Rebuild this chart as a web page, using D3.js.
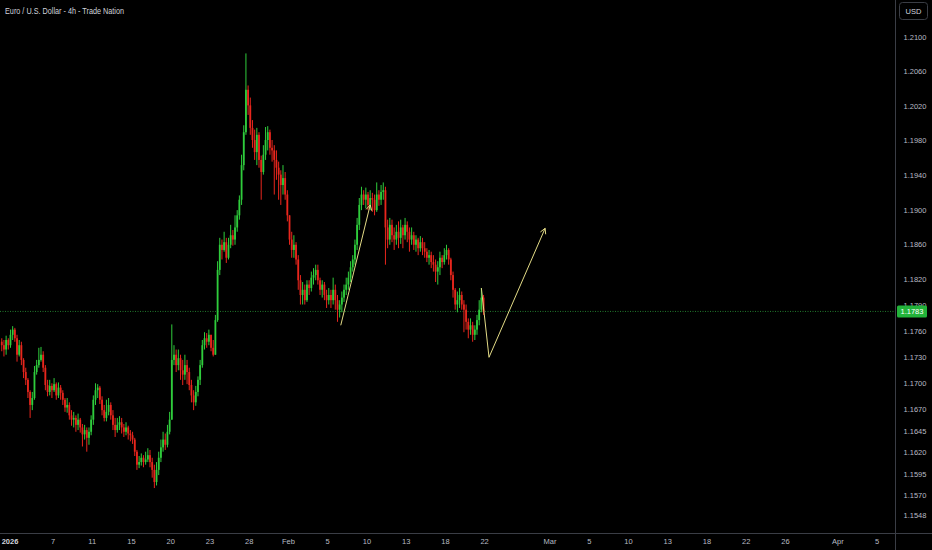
<!DOCTYPE html>
<html><head><meta charset="utf-8">
<script src="https://cdn.jsdelivr.net/npm/d3@7"></script>
<style>html,body{margin:0;padding:0;background:#000;}svg{display:block;}</style>
</head><body>
<svg id="c" width="932" height="550"></svg>
<script>
const title = "Euro / U.S. Dollar - 4h - Trade Nation";
const currency = "USD";
const firstOpen = 1.1748;
const firstCandle = "2026-01-01T00:00Z";
const closes = [
1.1744,1.1739,1.1750,1.1744,1.1756,1.1762,
1.1752,1.1733,1.1744,1.1727,1.1713,1.1704,
1.1690,1.1675,1.1683,1.1713,1.1721,1.1727,
1.1733,1.1718,1.1698,1.1690,1.1697,1.1692,
1.1699,1.1686,1.1695,1.1689,1.1681,1.1672,
1.1675,1.1663,1.1658,1.1660,1.1652,1.1658,
1.1649,1.1641,1.1646,1.1637,1.1644,1.1658,
1.1681,1.1692,1.1695,1.1681,1.1669,1.1660,
1.1667,1.1675,1.1663,1.1652,1.1646,1.1652,
1.1655,1.1649,1.1644,1.1649,1.1642,1.1640,
1.1635,1.1621,1.1606,1.1609,1.1614,1.1609,
1.1612,1.1617,1.1609,1.1600,1.1586,1.1600,
1.1614,1.1626,1.1635,1.1629,1.1644,1.1658,
1.1727,1.1733,1.1721,1.1729,1.1715,1.1710,
1.1721,1.1713,1.1698,1.1686,1.1678,1.1690,
1.1704,1.1721,1.1744,1.1752,1.1748,1.1756,
1.1741,1.1733,1.1773,1.1831,1.1860,1.1854,
1.1863,1.1845,1.1860,1.1871,1.1866,1.1880,
1.1894,1.1912,1.1952,1.1990,1.2039,1.2021,
1.1995,1.1981,1.1967,1.1987,1.1958,1.1944,
1.1964,1.1981,1.1990,1.1972,1.1969,1.1958,
1.1949,1.1941,1.1929,1.1937,1.1918,1.1894,
1.1866,1.1854,1.1860,1.1843,1.1819,1.1802,
1.1808,1.1796,1.1814,1.1810,1.1822,1.1825,
1.1831,1.1819,1.1808,1.1814,1.1802,1.1796,
1.1802,1.1796,1.1808,1.1796,1.1785,1.1791,
1.1799,1.1808,1.1814,1.1822,1.1834,1.1843,
1.1860,1.1883,1.1906,1.1918,1.1912,1.1918,
1.1906,1.1914,1.1912,1.1900,1.1918,1.1912,
1.1921,1.1923,1.1880,1.1866,1.1883,1.1871,
1.1866,1.1875,1.1868,1.1880,1.1871,1.1883,
1.1875,1.1866,1.1871,1.1860,1.1866,1.1856,
1.1863,1.1856,1.1852,1.1845,1.1848,1.1840,
1.1837,1.1829,1.1834,1.1845,1.1840,1.1848,
1.1854,1.1843,1.1825,1.1808,1.1791,1.1796,
1.1802,1.1791,1.1785,1.1771,1.1762,1.1767,
1.1756,1.1762,1.1773,1.1785,1.1799,1.1783];
const highs = [
1.1752,1.1750,1.1755,1.1752,1.1762,1.1766,
1.1764,1.1756,1.1750,1.1748,1.1729,1.1718,
1.1706,1.1692,1.1690,1.1720,1.1727,1.1741,
1.1742,1.1737,1.1721,1.1704,1.1704,1.1700,
1.1706,1.1701,1.1701,1.1698,1.1692,1.1683,
1.1683,1.1678,1.1669,1.1667,1.1663,1.1665,
1.1660,1.1653,1.1652,1.1649,1.1649,1.1663,
1.1686,1.1700,1.1699,1.1697,1.1685,1.1675,
1.1681,1.1683,1.1678,1.1669,1.1660,1.1660,
1.1662,1.1660,1.1653,1.1655,1.1651,1.1646,
1.1644,1.1637,1.1623,1.1616,1.1619,1.1617,
1.1621,1.1625,1.1623,1.1614,1.1606,1.1609,
1.1621,1.1635,1.1644,1.1642,1.1652,1.1667,
1.1768,1.1744,1.1739,1.1739,1.1733,1.1727,
1.1733,1.1727,1.1718,1.1704,1.1692,1.1697,
1.1708,1.1727,1.1750,1.1759,1.1758,1.1762,
1.1755,1.1750,1.1779,1.1841,1.1868,1.1866,
1.1875,1.1868,1.1868,1.1883,1.1877,1.1894,
1.1900,1.1917,1.1964,1.1998,1.2081,1.2044,
1.2030,1.2004,1.1993,1.1995,1.1990,1.1963,
1.1975,1.1996,1.1997,1.1993,1.1981,1.1975,
1.1969,1.1956,1.1946,1.1952,1.1944,1.1923,
1.1894,1.1875,1.1871,1.1863,1.1848,1.1825,
1.1817,1.1814,1.1819,1.1819,1.1829,1.1833,
1.1837,1.1837,1.1822,1.1819,1.1817,1.1808,
1.1810,1.1808,1.1822,1.1814,1.1802,1.1796,
1.1806,1.1814,1.1822,1.1829,1.1841,1.1848,
1.1866,1.1891,1.1914,1.1927,1.1923,1.1926,
1.1921,1.1923,1.1920,1.1918,1.1932,1.1923,
1.1929,1.1932,1.1927,1.1889,1.1891,1.1889,
1.1880,1.1883,1.1887,1.1889,1.1883,1.1891,
1.1887,1.1880,1.1880,1.1875,1.1871,1.1868,
1.1870,1.1868,1.1863,1.1856,1.1854,1.1852,
1.1848,1.1843,1.1841,1.1852,1.1848,1.1856,
1.1860,1.1856,1.1845,1.1829,1.1810,1.1806,
1.1810,1.1806,1.1796,1.1791,1.1775,1.1775,
1.1771,1.1767,1.1779,1.1796,1.1810,1.1802];
const lows = [
1.1737,1.1731,1.1733,1.1739,1.1741,1.1750,
1.1748,1.1725,1.1731,1.1721,1.1706,1.1698,
1.1683,1.1660,1.1669,1.1681,1.1710,1.1718,
1.1725,1.1713,1.1692,1.1685,1.1686,1.1683,
1.1690,1.1681,1.1683,1.1681,1.1675,1.1667,
1.1666,1.1658,1.1651,1.1649,1.1644,1.1646,
1.1643,1.1627,1.1635,1.1621,1.1629,1.1640,
1.1652,1.1675,1.1683,1.1676,1.1663,1.1656,
1.1656,1.1663,1.1658,1.1646,1.1638,1.1643,
1.1646,1.1642,1.1638,1.1640,1.1635,1.1633,
1.1630,1.1616,1.1600,1.1602,1.1605,1.1603,
1.1606,1.1609,1.1603,1.1591,1.1579,1.1582,
1.1594,1.1609,1.1621,1.1623,1.1626,1.1641,
1.1660,1.1721,1.1713,1.1715,1.1704,1.1698,
1.1704,1.1699,1.1692,1.1678,1.1669,1.1674,
1.1685,1.1698,1.1718,1.1739,1.1741,1.1744,
1.1737,1.1731,1.1733,1.1771,1.1825,1.1843,
1.1852,1.1839,1.1843,1.1856,1.1859,1.1860,
1.1875,1.1889,1.1906,1.1946,1.1987,1.2010,
1.1987,1.1972,1.1958,1.1952,1.1949,1.1912,
1.1941,1.1958,1.1969,1.1964,1.1956,1.1918,
1.1935,1.1912,1.1906,1.1918,1.1912,1.1887,
1.1860,1.1845,1.1845,1.1837,1.1808,1.1791,
1.1791,1.1791,1.1794,1.1802,1.1806,1.1814,
1.1819,1.1814,1.1802,1.1799,1.1796,1.1787,
1.1791,1.1787,1.1791,1.1785,1.1771,1.1776,
1.1782,1.1794,1.1802,1.1808,1.1817,1.1829,
1.1837,1.1854,1.1877,1.1900,1.1906,1.1902,
1.1900,1.1900,1.1898,1.1894,1.1898,1.1905,
1.1906,1.1912,1.1837,1.1856,1.1860,1.1863,
1.1854,1.1860,1.1856,1.1861,1.1856,1.1866,
1.1863,1.1852,1.1860,1.1854,1.1852,1.1848,
1.1852,1.1848,1.1845,1.1840,1.1837,1.1833,
1.1829,1.1817,1.1814,1.1825,1.1833,1.1837,
1.1843,1.1837,1.1819,1.1799,1.1785,1.1782,
1.1787,1.1785,1.1759,1.1762,1.1752,1.1756,
1.1748,1.1750,1.1756,1.1767,1.1782,1.1779];

const priceTicks = [1.2100,1.2060,1.2020,1.1980,1.1940,1.1900,1.1860,1.1820,1.1790,1.1760,1.1730,1.1700,1.1670,1.1645,1.1620,1.1595,1.1570,1.1548];
const dateTicks = ["2026-01-01","2026-01-07","2026-01-11","2026-01-15","2026-01-20","2026-01-23","2026-01-28","2026-02-01","2026-02-05","2026-02-10","2026-02-13","2026-02-18","2026-02-22","2026-03-01","2026-03-05","2026-03-10","2026-03-13","2026-03-18","2026-03-22","2026-03-26","2026-04-01","2026-04-05"];
const dateLabels = ["2026","7","11","15","20","23","28","Feb","5","10","13","18","22","Mar","5","10","13","18","22","26","Apr","5"];
const arrowUp = [["2026-02-06T00:00Z",1.1767],["2026-02-10T06:00Z",1.1906]];
const arrowPath = [["2026-02-20T18:00Z",1.1810],["2026-02-23T08:00Z",1.1730],["2026-02-27T15:00Z",1.1879]];

// trading-time index: weekdays only, counted from Mon 2025-12-29
const base = Date.UTC(2025,11,29);
function tIndex(d){
  const t = (d.getTime()-base)/864e5;
  const days = Math.floor(t), wk = Math.floor(days/7), dow = ((days%7)+7)%7;
  if (dow>=5) return wk*5+5;
  return wk*5+dow+(t-days);
}
const W=932,H=550, axisX=895, axisY=533;
const svg = d3.select("#c");
svg.append("rect").attr("width",W).attr("height",H).attr("fill","#000");

const x = d3.scaleLinear().domain([0,70]).range([-38.56, 877.04]);
const y = d3.scaleLinear().domain([1.1548,1.2100]).range([514.9,36.97]);

// candles
const candles = [];
let prev = firstOpen;
let k = 0, t = new Date(firstCandle).getTime();
while (k < closes.length){
  const d = new Date(t);
  const dow = d.getUTCDay();
  if (dow!==0 && dow!==6){
    const o = prev, c = closes[k];
    candles.push({date:d, o, c, h:Math.max(highs[k],o,c), l:Math.min(lows[k],o,c)});
    prev = c; k++;
  }
  t += 4*3600e3;
}
const up = "#2fcc3c", dn = "#e8261d";
svg.append("clipPath").attr("id","clipP").append("rect").attr("x",0).attr("y",0).attr("width",axisX).attr("height",axisY);
const plot = svg.append("g").attr("clip-path","url(#clipP)");

// last price line
const last = closes[closes.length-1];
plot.append("line").attr("x1",0).attr("x2",axisX).attr("y1",y(last)).attr("y2",y(last))
  .attr("stroke","#237a2e").attr("stroke-width",1).attr("stroke-dasharray","1,1.5");

const cx = d => x(tIndex(d.date)+1/12);
plot.selectAll("line.wick").data(candles).join("line")
  .attr("x1",cx).attr("x2",cx).attr("y1",d=>y(d.h)).attr("y2",d=>y(d.l))
  .attr("stroke",d=>d.c>=d.o?up:dn).attr("stroke-width",1);
plot.selectAll("rect.body").data(candles).join("rect")
  .attr("x",d=>cx(d)-0.9).attr("width",1.8)
  .attr("y",d=>y(Math.max(d.o,d.c))).attr("height",d=>Math.max(0.8,Math.abs(y(d.o)-y(d.c))))
  .attr("fill",d=>d.c>=d.o?up:dn);

// drawings
const dcol = "#e3db86";
function pt(p){return [x(tIndex(new Date(p[0]))), y(p[1])];}
function drawArrow(points){
  const pts = points.map(pt);
  svg.append("path").attr("d",d3.line()(pts)).attr("fill","none").attr("stroke",dcol).attr("stroke-width",1);
  const a = pts[pts.length-2], b = pts[pts.length-1];
  const ang = Math.atan2(b[1]-a[1], b[0]-a[0]);
  const L = 6, sp = 0.5;
  const p1 = [b[0]-L*Math.cos(ang-sp), b[1]-L*Math.sin(ang-sp)];
  const p2 = [b[0]-L*Math.cos(ang+sp), b[1]-L*Math.sin(ang+sp)];
  svg.append("path").attr("d",d3.line()([p1,b,p2])).attr("fill","none").attr("stroke",dcol).attr("stroke-width",1);
}
drawArrow(arrowUp);
drawArrow(arrowPath);

// axes lines
svg.append("line").attr("x1",axisX+0.5).attr("x2",axisX+0.5).attr("y1",0).attr("y2",H).attr("stroke","#3a3d45");
svg.append("line").attr("x1",0).attr("x2",W).attr("y1",axisY+0.5).attr("y2",axisY+0.5).attr("stroke","#3a3d45");

const font = "'Liberation Sans', Arial, sans-serif";
// price axis labels
svg.append("g").selectAll("text").data(priceTicks).join("text")
  .attr("x",915).attr("y",d=>y(d)).attr("dy","0.35em").attr("text-anchor","middle")
  .attr("font-family",font).attr("font-size",7.5).attr("fill","#b8bbc4")
  .text(d=>d.toFixed(4));
// last price label
svg.append("rect").attr("x",897).attr("y",y(last)-6).attr("width",30).attr("height",12).attr("rx",1.5).attr("fill","#22b33a");
svg.append("text").attr("x",912).attr("y",y(last)).attr("dy","0.35em").attr("text-anchor","middle")
  .attr("font-family",font).attr("font-size",7.5).attr("fill","#ffffff").text(last.toFixed(4));
// currency box
svg.append("rect").attr("x",899.5).attr("y",2.5).attr("width",28).attr("height",17).attr("rx",3)
  .attr("fill","#000").attr("stroke","#3a3d45");
svg.append("text").attr("x",913.5).attr("y",11).attr("dy","0.35em").attr("text-anchor","middle")
  .attr("font-family",font).attr("font-size",7.5).attr("fill","#d1d4dc").text(currency);
// date axis
svg.append("g").selectAll("text").data(dateTicks).join("text")
  .attr("x",(d,i)=>Math.max(x(tIndex(new Date(d+"T00:00Z"))), i===0?10:0))
  .attr("y",541).attr("dy","0.35em").attr("text-anchor","middle")
  .attr("font-family",font).attr("font-size",7.5).attr("fill",(d,i)=>i===0?"#d1d4dc":"#b8bbc4")
  .attr("font-weight",(d,i)=>i===0?"bold":"normal")
  .text((d,i)=>dateLabels[i]);
// title
svg.append("text").attr("x",5).attr("y",11.5).attr("dy","0.35em")
  .attr("font-family",font).attr("font-size",8.5).attr("fill","#d1d4dc")
  .attr("textLength",119).attr("lengthAdjust","spacingAndGlyphs").text(title);
</script>
</body></html>
